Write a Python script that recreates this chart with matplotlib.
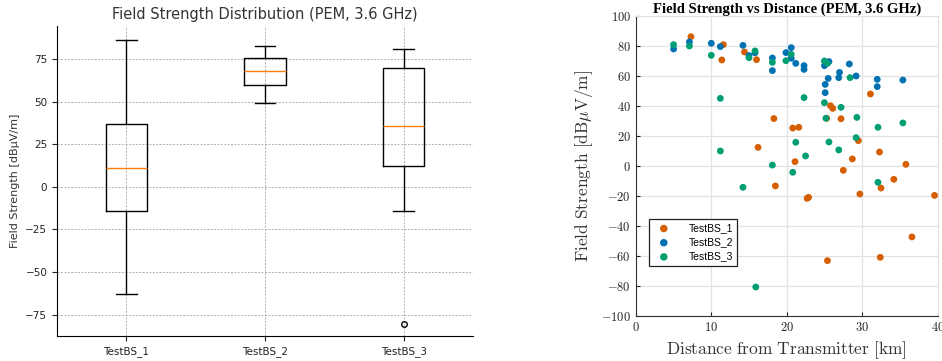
import matplotlib.pyplot as plt

labels = ["TestBS_1", "TestBS_2", "TestBS_3"]
colors = ["#D55E00", "#0072B2", "#009E73"]

# TestBS_1
dist_1 = [7.3, 11.6, 11.4, 14.4, 16.0, 18.3, 16.2, 18.5, 20.8, 21.6,
          21.1, 22.7, 22.9, 25.3, 25.8, 26.1, 27.2, 27.5, 28.7, 29.5,
          29.7, 31.1, 32.3, 32.5, 34.2, 35.8, 39.6, 25.4, 32.4, 36.6]
field_1 = [86.2, 80.9, 70.7, 76.0, 70.9, 31.6, 12.4, -13.3, 25.3, 25.8,
           2.9, -21.6, -20.9, 31.8, 40.2, 38.4, 31.5, -2.9, 4.7, 16.9,
           -18.7, 48.0, 9.3, -14.7, -8.9, 1.1, -19.6, -63.1, -60.9, -47.3]

# TestBS_2
dist_2 = [5.0, 7.1, 10.0, 11.2, 14.2, 15.0, 15.8, 18.1, 18.1, 19.9,
          20.6, 20.6, 21.2, 22.3, 22.3, 25.0, 25.6, 28.3, 27.0, 26.9,
          25.5, 29.2, 32.0, 32.0, 35.4, 25.1, 25.1]
field_2 = [78.0, 82.7, 81.8, 79.6, 80.4, 73.6, 75.5, 72.0, 63.6, 75.6,
           78.9, 71.8, 68.4, 66.9, 64.4, 66.9, 69.6, 68.0, 62.4, 58.9,
           58.4, 60.0, 57.8, 52.9, 57.3, 54.4, 48.9]

# TestBS_3
dist_3 = [5.0, 7.1, 10.0, 15.0, 15.8, 18.1, 11.2, 19.9, 20.6, 25.0,
          25.4, 28.4, 22.3, 25.0, 27.2, 25.2, 29.3, 11.2, 18.1, 14.2,
          32.1, 35.4, 21.2, 25.6, 26.9, 29.2, 22.5, 20.8, 32.1, 15.9]
field_3 = [80.9, 80.0, 73.8, 72.2, 76.7, 69.1, 45.1, 70.2, 74.4, 70.0,
           68.4, 58.9, 45.6, 42.2, 39.1, 31.8, 32.4, 10.0, 0.6, -14.2,
           25.8, 28.7, 15.8, 16.0, 10.7, 18.9, 6.7, -4.2, -10.9, -80.7]

fig = plt.figure(figsize=(9.42, 3.61), dpi=100)

# left: box plot
ax1 = fig.add_axes([0.0605, 0.069, 0.4415, 0.859])
ax1.boxplot([field_1, field_2, field_3], widths=0.3,
            medianprops=dict(color="#ff7f0e", linewidth=1),
            flierprops=dict(marker="o", markerfacecolor="none",
                            markeredgecolor="black", markersize=4))
ax1.set_xticks([1, 2, 3], labels)
ax1.set_xlim(0.5, 3.5)
ax1.set_ylim(-87.5, 94.3)
ax1.set_title("Field Strength Distribution (PEM, 3.6 GHz)", fontsize=10.5, color="#333333", pad=5)
ax1.set_ylabel("Field Strength [dBμV/m]", fontsize=8, color="#333333")
ax1.tick_params(labelsize=7.5, colors="#222222")
ax1.grid(True, linestyle=(0, (2, 1.5)), color="#b0b0b0", linewidth=0.7)
ax1.spines["top"].set_visible(False)
ax1.spines["right"].set_visible(False)

# right: scatter
plt.rcParams["mathtext.fontset"] = "cm"
ax2 = fig.add_axes([0.675, 0.1247, 0.3203, 0.831])
for d, f, lab, c in zip([dist_1, dist_2, dist_3], [field_1, field_2, field_3], labels, colors):
    ax2.scatter(d, f, s=24, color=c, label=lab, zorder=3, edgecolors="none")
ax2.set_xlim(0, 40)
ax2.set_ylim(-100, 100)
ax2.set_xticks(range(0, 41, 10))
ax2.set_yticks(range(-100, 101, 20))
ax2.set_xticklabels([f"${v}$" for v in range(0, 41, 10)])
ax2.set_yticklabels([f"${v}$" for v in range(-100, 101, 20)])
ax2.tick_params(direction="in", length=3, labelsize=9, colors="#222222")
ax2.grid(True, color="#e2e2e2", linewidth=0.9)
ax2.set_axisbelow(True)
ax2.spines["top"].set_color("#e2e2e2")
ax2.spines["right"].set_color("#e2e2e2")
ax2.spines["left"].set_color("#333333")
ax2.spines["bottom"].set_color("#333333")
ax2.set_title("Field Strength vs Distance (PEM, 3.6 GHz)", fontsize=10.5,
              fontweight="bold", family="Liberation Serif", pad=1)
ax2.set_xlabel(r"$\mathrm{Distance\ from\ Transmitter\ [km]}$", fontsize=12.5, color="#333333")
ax2.set_ylabel(r"$\mathrm{Field\ Strength\ [dB}\mu\mathrm{V/m]}$", fontsize=12.5, color="#333333")
leg = ax2.legend(loc="lower left", bbox_to_anchor=(0.027, 0.15), fancybox=False,
                 edgecolor="#222222", framealpha=1, handletextpad=1.4, markerscale=1.1,
                 borderpad=0.4, labelspacing=0.4, prop={"family": "Liberation Sans", "size": 7.5})
leg.get_frame().set_linewidth(0.9)

plt.savefig("out.png", dpi=100)
